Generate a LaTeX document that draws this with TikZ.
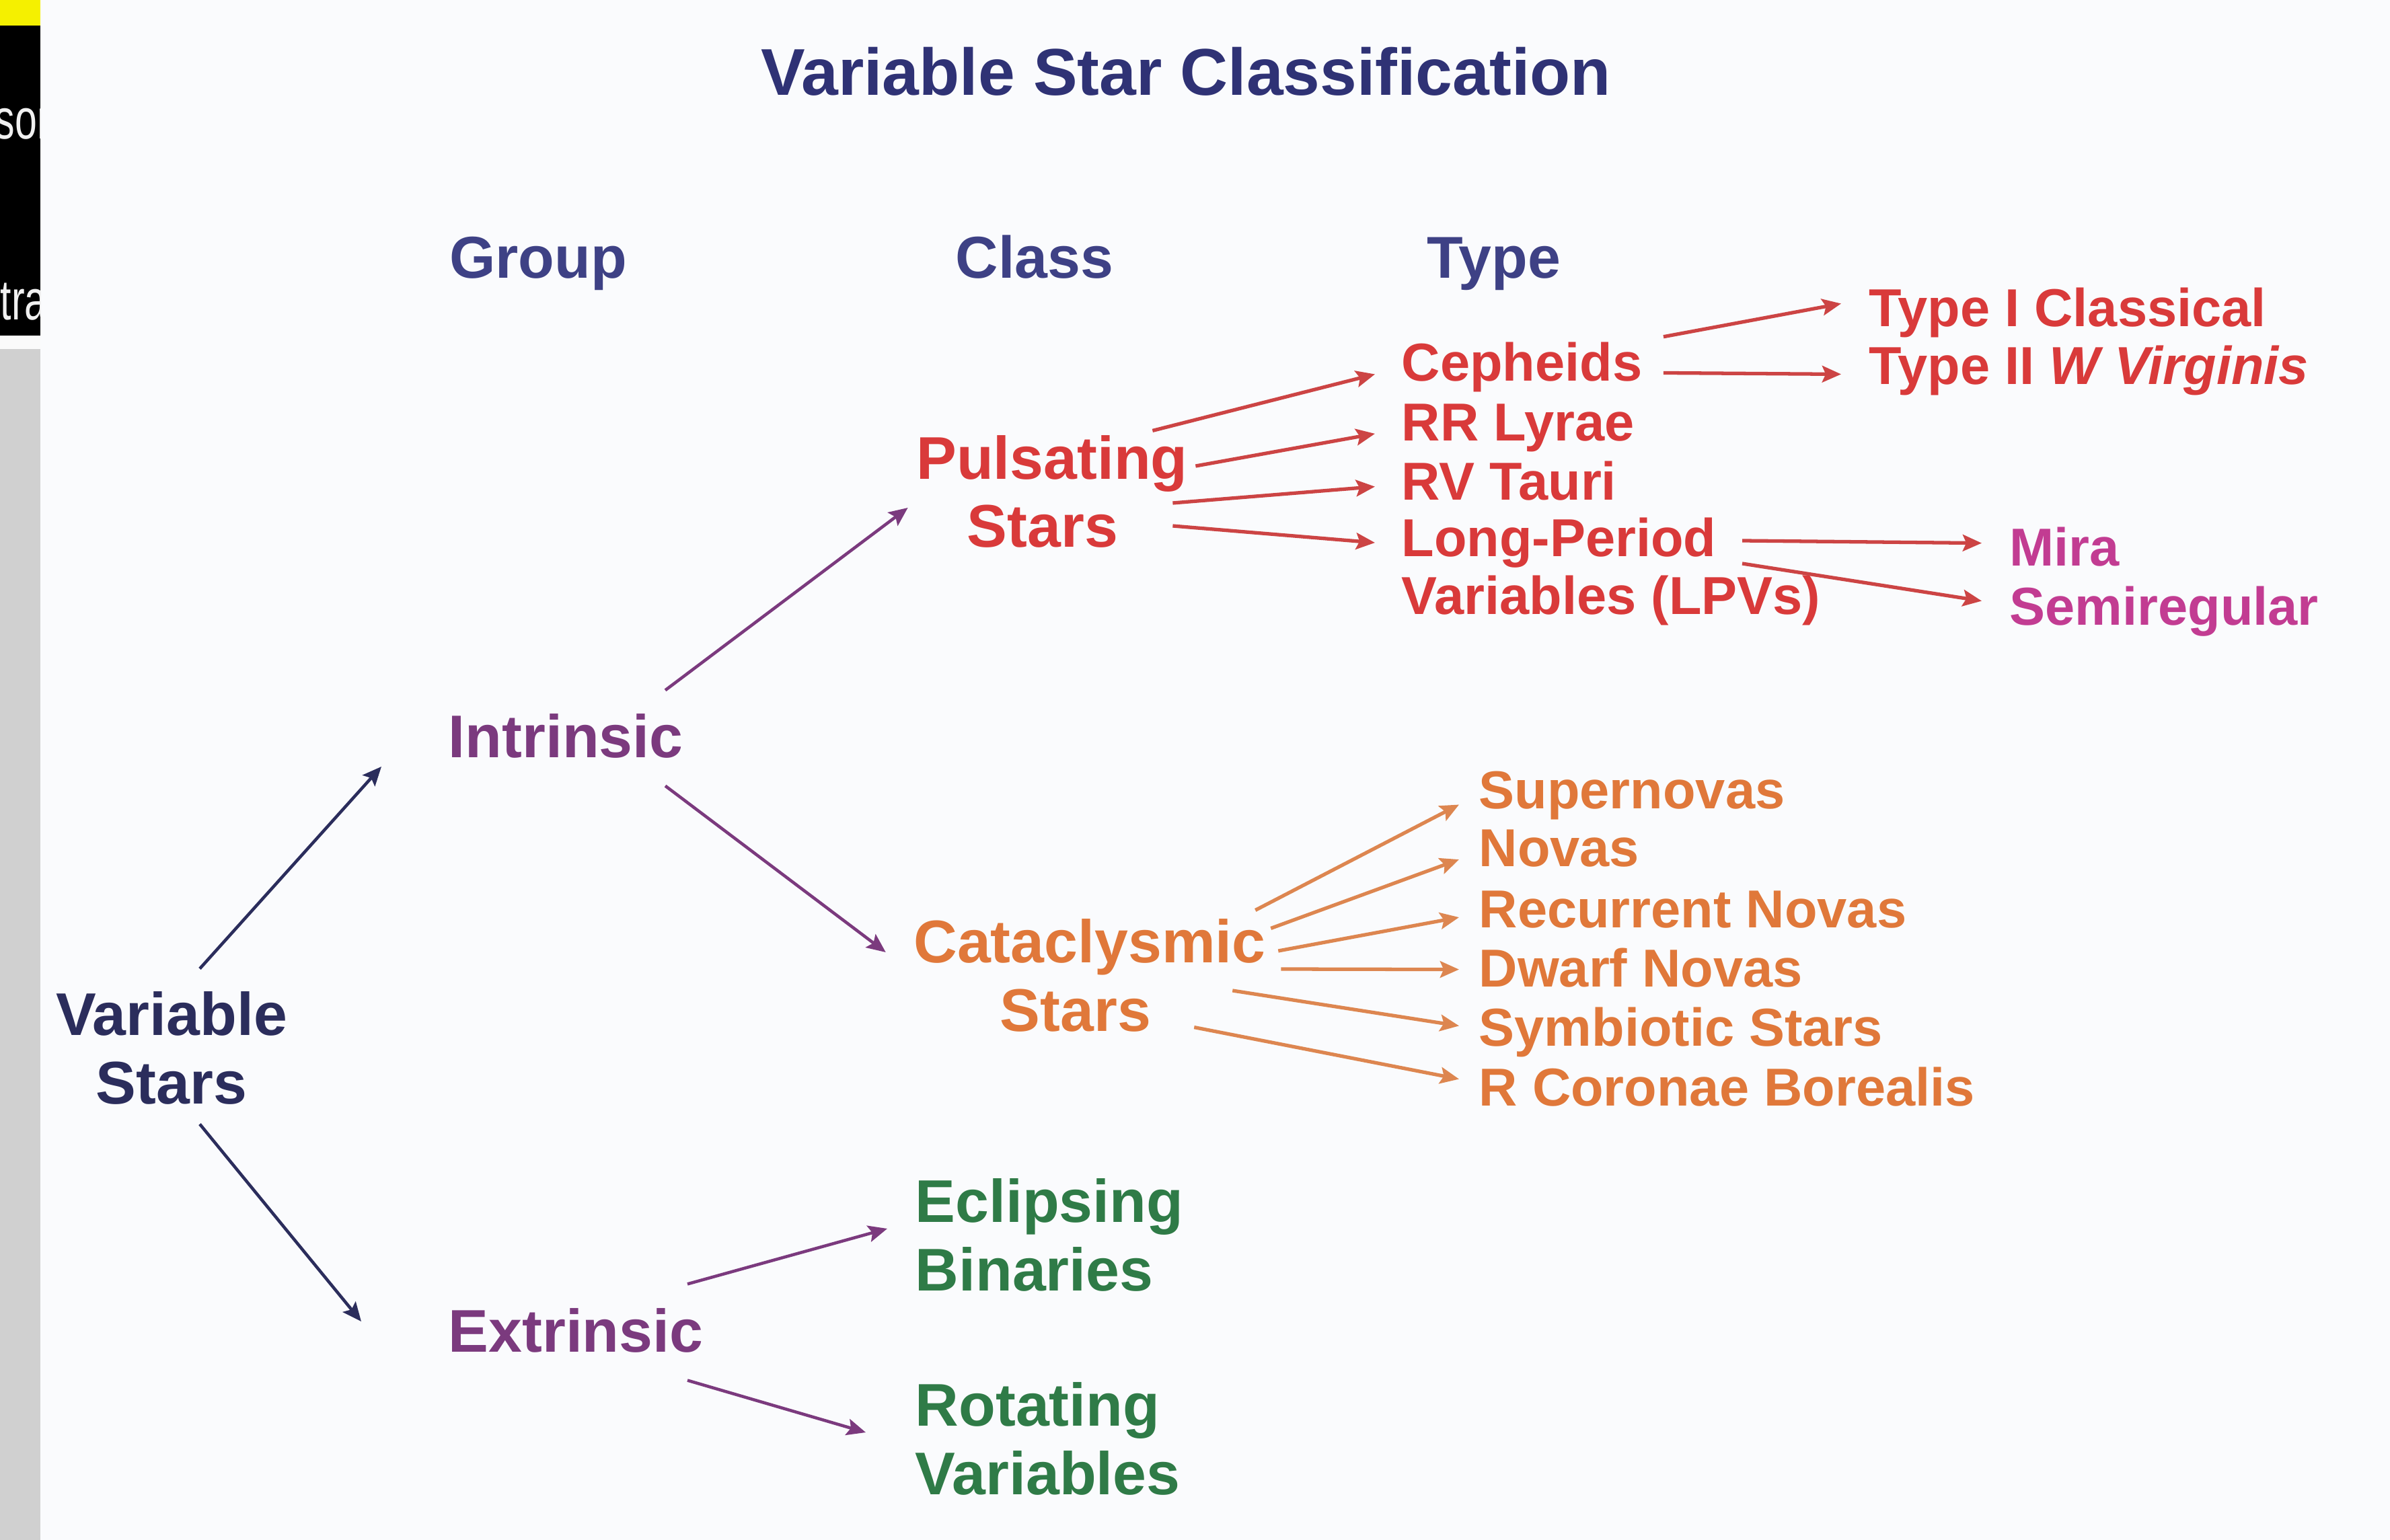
\documentclass[tikz,border=0pt]{standalone}
\usepackage{fontspec}
\setmainfont{Liberation Sans}
\usetikzlibrary{arrows.meta}
\definecolor{titleblue}{HTML}{2F3275}
\definecolor{headblue}{HTML}{3E4185}
\definecolor{rootnavy}{HTML}{2B2D5C}
\definecolor{grouppurple}{HTML}{7B3A7E}
\definecolor{pulsred}{HTML}{D93A3A}
\definecolor{arrowred}{HTML}{CC4444}
\definecolor{miramag}{HTML}{C23C92}
\definecolor{cataorange}{HTML}{E0783A}
\definecolor{arroworange}{HTML}{DD8650}
\definecolor{extgreen}{HTML}{2F7B47}
\definecolor{bgwhite}{HTML}{FAFBFD}
\definecolor{stripgray}{HTML}{D0D0D0}
\definecolor{stripyellow}{HTML}{F5F000}
\begin{document}
\begin{tikzpicture}[lbl/.style={font=\fontsize{25.5}{29}\selectfont\bfseries, inner sep=0pt, align=center},
    item/.style={font=\fontsize{22.6}{24.5}\selectfont\bfseries, inner sep=0pt, anchor=base west, align=left},
    striptext/.style={font=\fontsize{24}{28}\selectfont, text=white!88!gray, inner sep=0pt, anchor=base west},
    arr/.style={-{Stealth[length=8pt,width=7pt,inset=1.5pt]}, line width=1.5pt}]
    \useasboundingbox (0,0) rectangle (35.53,-22.90);
    \fill[bgwhite] (0,0) rectangle (35.53,-22.90);
    % Left edge strip
    \fill[stripgray] (0,-5.19) rectangle (0.60,-22.90);
    \fill[white!96!gray] (0,-4.99) rectangle (0.60,-5.19);
    \fill[black] (0,-0.38) rectangle (0.60,-4.99);
    \fill[stripyellow] (0,0) rectangle (0.60,-0.38);
    \begin{scope}
        \clip (0,-0.38) rectangle (0.60,-4.99);
        \node[striptext] (stripa) at (-0.08,-2.07) {\scalebox{0.7}[1]{son}};
        \node[striptext] (stripb) at (0,-4.76) {\scalebox{0.7}[1]{tra}};
    \end{scope}
    % Title and headings
    \node[lbl, font=\fontsize{28}{32}\selectfont\bfseries, text=titleblue, anchor=base] (title) at (17.63,-1.42) {Variable Star Classification};
    \node[lbl, font=\fontsize{25}{29}\selectfont\bfseries, text=headblue, anchor=base] (hgroup) at (8.00,-4.14) {Group};
    \node[lbl, font=\fontsize{25}{29}\selectfont\bfseries, text=headblue, anchor=base] (hclass) at (15.38,-4.14) {Class};
    \node[lbl, font=\fontsize{25}{29}\selectfont\bfseries, text=headblue, anchor=base] (htype) at (22.21,-4.14) {Type};
    % Root and groups
    \node[lbl, text=rootnavy] (vs) at (2.55,-15.58) {Variable\\Stars};
    \node[lbl, text=grouppurple, anchor=base west] (intr) at (6.66,-11.26) {Intrinsic};
    \node[lbl, text=grouppurple, anchor=base west] (extr) at (6.66,-20.10) {Extrinsic};
    % Classes
    \node[lbl, text=pulsred] (puls) at (15.64,-7.31) {Pulsating\\Stars\hspace*{8pt}};
    \node[lbl, text=cataorange] (cata) at (16.20,-14.50) {Cataclysmic\\Stars\hspace*{12pt}};
    \node[lbl, text=extgreen, anchor=west, align=left] (ecl) at (13.60,-18.36) {Eclipsing\\Binaries};
    \node[lbl, text=extgreen, anchor=west, align=left] (rot) at (13.60,-21.39) {Rotating\\Variables};
    % Pulsating types
    \node[item, text=pulsred] (ceph) at (20.83,-5.67) {Cepheids};
    \node[item, text=pulsred] (rrl) at (20.83,-6.56) {RR Lyrae};
    \node[item, text=pulsred] (rvt) at (20.83,-7.44) {RV Tauri};
    \node[item, text=pulsred, anchor=west] (lpv) at (20.83,-8.50) {Long-Period\\Variables (LPVs)};
    \node[item, text=pulsred] (typei) at (27.78,-4.86) {Type I Classical};
    \node[item, text=pulsred] (typeii) at (27.78,-5.72) {Type II \textit{W Virginis}};
    \node[item, text=miramag] (mira) at (29.87,-8.41) {Mira};
    \node[item, text=miramag] (semi) at (29.87,-9.30) {Semiregular};
    % Cataclysmic types
    \node[item, text=cataorange] (supn) at (21.98,-12.02) {Supernovas};
    \node[item, text=cataorange] (nova) at (21.98,-12.88) {Novas};
    \node[item, text=cataorange] (recn) at (21.98,-13.79) {Recurrent Novas};
    \node[item, text=cataorange] (dwarf) at (21.98,-14.67) {Dwarf Novas};
    \node[item, text=cataorange] (symb) at (21.98,-15.55) {Symbiotic Stars};
    \node[item, text=cataorange] (rcb) at (21.98,-16.44) {R Coronae Borealis};
    % Connectors
    \draw[arr, rootnavy, line width=1.3pt] ([xshift=0.42cm,yshift=0.33cm]vs.north) -- ([xshift=-0.99cm,yshift=-0.46cm]intr.west);
    \draw[arr, rootnavy, line width=1.3pt] ([xshift=0.42cm,yshift=-0.29cm]vs.south) -- ([xshift=-1.29cm,yshift=0.13cm]extr.west);
    \draw[arr, grouppurple, line width=1.3pt] ([xshift=-0.27cm,yshift=0.34cm]intr.north east) -- ([xshift=-0.12cm,yshift=-0.24cm]puls.west);
    \draw[arr, grouppurple, line width=1.3pt] ([xshift=-0.27cm,yshift=-0.41cm]intr.south east) -- ([xshift=-0.41cm,yshift=0.34cm]cata.west);
    \draw[arr, grouppurple, line width=1.3pt] ([xshift=-0.24cm,yshift=0.35cm]extr.north east) -- ([xshift=-0.41cm,yshift=0.09cm]ecl.west);
    \draw[arr, grouppurple, line width=1.3pt] ([xshift=-0.24cm,yshift=-0.41cm]extr.south east) -- ([xshift=-0.73cm,yshift=0.09cm]rot.west);
    \draw[arr, arrowred] ([xshift=-0.53cm,yshift=0.06cm]puls.north east) -- ([xshift=-0.39cm,yshift=-0.10cm]ceph.west);
    \draw[arr, arrowred] ([xshift=0.11cm,yshift=0.38cm]puls.east) -- ([xshift=-0.39cm,yshift=-0.08cm]rrl.west);
    \draw[arr, arrowred] ([xshift=-0.23cm,yshift=-0.17cm]puls.east) -- ([xshift=-0.39cm,yshift=-0.08cm]rvt.west);
    \draw[arr, arrowred] ([xshift=-0.23cm,yshift=-0.51cm]puls.east) -- ([xshift=-0.39cm,yshift=0.43cm]lpv.west);
    \draw[arr, arrowred] ([xshift=0.31cm,yshift=0.08cm]ceph.north east) -- ([xshift=-0.41cm,yshift=0.14cm]typei.west);
    \draw[arr, arrowred] ([xshift=0.31cm,yshift=-0.08cm]ceph.east) -- ([xshift=-0.41cm,yshift=-0.05cm]typeii.west);
    \draw[arr, arrowred] ([xshift=5.07cm,yshift=0.46cm]lpv.west) -- ([xshift=-0.41cm,yshift=0.05cm]mira.west);
    \draw[arr, arrowred] ([xshift=5.07cm,yshift=0.12cm]lpv.west) -- ([xshift=-0.41cm,yshift=0.16cm]semi.west);
    \draw[arr, arroworange] ([xshift=-0.16cm,yshift=0.12cm]cata.north east) -- ([xshift=-0.29cm,yshift=-0.14cm]supn.west);
    \draw[arr, arroworange] ([xshift=0.07cm,yshift=-0.15cm]cata.north east) -- ([xshift=-0.29cm,yshift=-0.17cm]nova.west);
    \draw[arr, arroworange] ([xshift=0.18cm,yshift=0.36cm]cata.east) -- ([xshift=-0.29cm,yshift=-0.12cm]recn.west);
    \draw[arr, arroworange] ([xshift=0.22cm,yshift=0.09cm]cata.east) -- ([xshift=-0.29cm,yshift=-0.03cm]dwarf.west);
    \draw[arr, arroworange] ([xshift=-0.50cm,yshift=-0.23cm]cata.east) -- ([xshift=-0.29cm,yshift=0.09cm]symb.west);
    \draw[arr, arroworange] ([xshift=-1.07cm,yshift=0.07cm]cata.south east) -- ([xshift=-0.29cm,yshift=0.11cm]rcb.west);
\end{tikzpicture}
\end{document}
